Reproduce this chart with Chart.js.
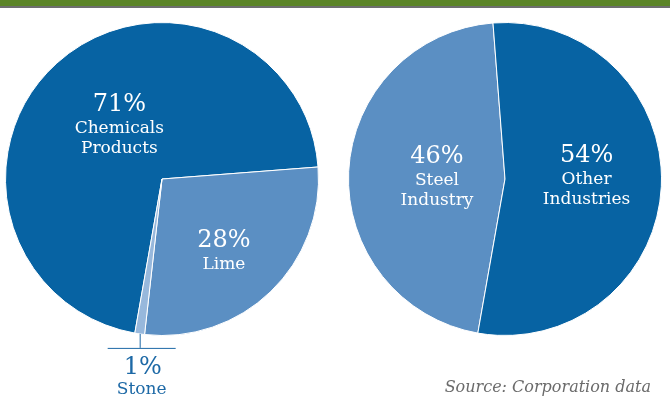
<!DOCTYPE html>
<html>
<head>
<meta charset="utf-8">
<script src="https://cdn.jsdelivr.net/npm/chart.js@4.4.1/dist/chart.umd.min.js"></script>
<style>
  html, body { margin: 0; padding: 0; background: #fff; }
  #page { position: relative; width: 670px; height: 414px; overflow: hidden; }
  #topBar { position: absolute; left: 0; top: 0; width: 670px; height: 6px; background: #5b8427; border-bottom: 2px solid #6e6e6e; z-index: 2; }
  canvas { position: absolute; top: 0; }
  #useChart { left: 0; }
  #userChart { left: 335px; }
  #source { position: absolute; right: 19px; top: 377px; font: italic 16px 'DejaVu Serif', 'Liberation Serif', serif; color: #6b6b6b; white-space: nowrap; }
</style>
</head>
<body>
<div id="page">
  <div id="topBar"></div>
  <canvas id="useChart" width="335" height="414"></canvas>
  <canvas id="userChart" width="335" height="414"></canvas>
  <div id="source">Source: Corporation data</div>
</div>
<script>
// what the output goes into
const useLabels = [['Chemicals', 'Products'], ['Lime'], ['Stone']];
const useValues = [71, 28, 1];

// who takes the output
const userLabels = [['Steel', 'Industry'], ['Other', 'Industries']];
const userValues = [46, 54];

const darkBlue = '#0763a3';
const midBlue = '#5b8fc3';
const paleBlue = '#97b8dc';
const noteBlue = '#1d69a6';

const pctFont = '24px "DejaVu Serif", "Liberation Serif", serif';
const nameFont = '17px "DejaVu Serif", "Liberation Serif", serif';

// writes "NN%" plus the category name on (or under) each slice
const sliceLabels = {
  id: 'sliceLabels',
  afterDatasetsDraw(chart, args, opts) {
    const ctx = chart.ctx;
    const arcs = chart.getDatasetMeta(0).data;
    const values = chart.data.datasets[0].data;
    arcs.forEach((arc, i) => {
      const { x, y, startAngle, endAngle, outerRadius } =
        arc.getProps(['x', 'y', 'startAngle', 'endAngle', 'outerRadius'], true);
      const mid = (startAngle + endAngle) / 2;
      const place = opts.places[i];
      const lines = chart.data.labels[i];
      const pct = values[i] + '%';
      ctx.save();
      ctx.textAlign = 'center';
      ctx.textBaseline = 'alphabetic';
      if (place.outside) {
        // thin slice: leader line down from the rim, label underneath
        const ex = x + Math.cos(mid) * outerRadius;
        const ey = y + Math.sin(mid) * outerRadius;
        const ly = ey + place.drop;
        const bx = ex + 2;
        ctx.strokeStyle = noteBlue;
        ctx.lineWidth = 1;
        ctx.beginPath();
        ctx.moveTo(ex + 0.5, ey);
        ctx.lineTo(ex + 0.5, ly);
        ctx.moveTo(bx - place.bar / 2, ly + 0.5);
        ctx.lineTo(bx + place.bar / 2, ly + 0.5);
        ctx.stroke();
        ctx.fillStyle = noteBlue;
        ctx.font = pctFont;
        ctx.fillText(pct, bx + 1, ly + 26);
        ctx.font = nameFont;
        lines.forEach((t, k) => ctx.fillText(t, bx, ly + 46 + k * 20));
      } else {
        const a = mid + place.turn * Math.PI / 180;
        const cx = x + Math.cos(a) * outerRadius * place.dist;
        const cy = y + Math.sin(a) * outerRadius * place.dist;
        ctx.fillStyle = '#fff';
        ctx.font = pctFont;
        ctx.fillText(pct, cx, cy - 8);
        ctx.font = nameFont;
        lines.forEach((t, k) => ctx.fillText(t, cx, cy + 14 + k * 20));
      }
      ctx.restore();
    });
  }
};

function makePie(canvasId, labels, values, colors, padding, places) {
  return new Chart(document.getElementById(canvasId), {
    type: 'pie',
    data: {
      labels: labels,
      datasets: [{
        data: values,
        backgroundColor: colors,
        borderColor: '#ffffff',
        borderWidth: 1
      }]
    },
    options: {
      responsive: false,
      animation: false,
      rotation: 190,
      layout: { padding: padding },
      plugins: {
        legend: { display: false },
        tooltip: { enabled: false },
        sliceLabels: { places: places }
      }
    },
    plugins: [sliceLabels]
  });
}

makePie('useChart', useLabels, useValues, [darkBlue, midBlue, paleBlue],
  { left: 5, top: 22, right: 16, bottom: 78 },
  [
    { dist: 0.473, turn: 7 },
    { dist: 0.626, turn: 4.8 },
    { outside: true, drop: 14, bar: 68 }
  ]);

makePie('userChart', userLabels, userValues, [midBlue, darkBlue],
  { left: 13, top: 22, right: 8, bottom: 78 },
  [
    { dist: 0.438, turn: 4.3 },
    { dist: 0.524, turn: -8.8 }
  ]);
</script>
</body>
</html>
